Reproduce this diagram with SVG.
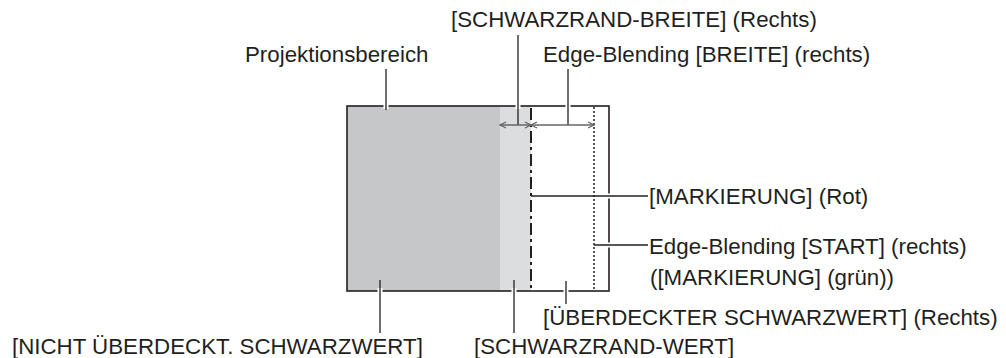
<svg xmlns="http://www.w3.org/2000/svg" width="1006" height="358" viewBox="0 0 1006 358">
<style>
text{font-family:"Liberation Sans",Arial,sans-serif;font-size:22.3px;fill:#231f20}
.ld{stroke:#231f20;stroke-width:1.3;fill:none}
.halo{stroke:#fff;stroke-width:5;fill:none}
.arr{stroke:#666;stroke-width:1.3;fill:none}
</style>
<rect width="1006" height="358" fill="#fff"/>
<g id="frame">
<rect x="347" y="106" width="153" height="185" fill="#c6c7c9"/>
<rect x="500" y="106" width="31" height="185" fill="#dcdddf"/>
<rect x="347" y="106" width="262" height="185" fill="none" stroke="#231f20" stroke-width="1.6"/>
<line x1="531" y1="108" x2="531" y2="290" stroke="#231f20" stroke-width="2" stroke-dasharray="12 4 3 4"/>
<line x1="594" y1="107" x2="594" y2="290" stroke="#231f20" stroke-width="1.5" stroke-dasharray="2 2"/>
</g>
<g id="connectors">
<line class="halo" x1="386" y1="103" x2="386" y2="109"/>
<line class="halo" x1="518" y1="103" x2="518" y2="109"/>
<line class="halo" x1="568" y1="103" x2="568" y2="109"/>
<line class="halo" x1="606" y1="196" x2="612" y2="196"/>
<line class="halo" x1="606" y1="245" x2="612" y2="245"/>
<line class="halo" x1="380" y1="288" x2="380" y2="294"/>
<line class="halo" x1="514" y1="288" x2="514" y2="294"/>
<line class="halo" x1="566" y1="288" x2="566" y2="294"/>
<line class="ld" x1="386" y1="69" x2="386" y2="110"/>
<line class="ld" x1="518" y1="35" x2="518" y2="125"/>
<line class="ld" x1="568" y1="69" x2="568" y2="125"/>
<line class="ld" x1="531" y1="196" x2="648" y2="196"/>
<line class="ld" x1="594" y1="245" x2="648" y2="245"/>
<line class="ld" x1="380" y1="280" x2="380" y2="333"/>
<line class="ld" x1="514" y1="280" x2="514" y2="333"/>
<line class="ld" x1="566" y1="281" x2="566" y2="304"/>
<line class="arr" x1="500" y1="125" x2="594" y2="125"/>
<path class="arr" d="M506,122 L500,125 L506,128 M525,122 L531,125 L525,128 M537,122 L531,125 L537,128 M588,122 L594,125 L588,128"/>
</g>
<g id="label-projektionsbereich"><text x="245" y="62">Projektionsbereich</text></g>
<g id="label-schwarzrand-breite"><text x="451" y="27">[SCHWARZRAND-BREITE] (Rechts)</text></g>
<g id="label-edge-breite"><text x="543" y="62">Edge-Blending [BREITE] (rechts)</text></g>
<g id="label-markierung-rot"><text x="649" y="204">[MARKIERUNG] (Rot)</text></g>
<g id="label-edge-start"><text x="649" y="254">Edge-Blending [START] (rechts)</text><text x="650" y="285">([MARKIERUNG] (grün))</text></g>
<g id="label-ueberdeckter"><text x="543" y="325">[ÜBERDECKTER SCHWARZWERT] (Rechts)</text></g>
<g id="label-nicht-ueberdeckt"><text x="12" y="354">[NICHT ÜBERDECKT. SCHWARZWERT]</text></g>
<g id="label-schwarzrand-wert"><text x="474" y="354">[SCHWARZRAND-WERT]</text></g>
</svg>
